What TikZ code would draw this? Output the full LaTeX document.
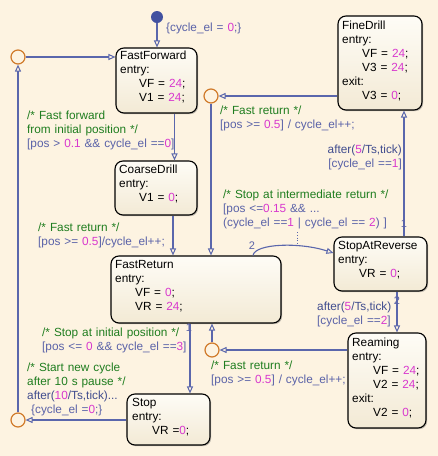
\documentclass[tikz,border=0pt]{standalone}
\usepackage{fontspec}
\setmainfont{Liberation Sans}
\usetikzlibrary{arrows.meta,shadows,calc}
\definecolor{bg}{HTML}{FDF3E1}
\definecolor{sttop}{HTML}{FEFCF6}
\definecolor{stbot}{HTML}{F3EAD5}
\definecolor{conn}{HTML}{5A66AC}
\definecolor{lblue}{HTML}{5A62A8}
\definecolor{dblue}{HTML}{404C8E}
\definecolor{cgreen}{HTML}{1F7D1F}
\definecolor{nmagc}{HTML}{D838CE}
\definecolor{jorange}{HTML}{D07A2A}
\definecolor{dotc}{HTML}{4251A0}
\newcommand\sffz{\fontsize{11.8pt}{14pt}\selectfont}
\newcommand\nmag[1]{\textcolor{nmagc}{#1}}
\newcommand\ngrn[1]{\textcolor{cgreen}{#1}}
\newcommand\nblu[1]{\textcolor{lblue}{#1}}
\newcommand\ndbl[1]{\textcolor{dblue}{#1}}
\begin{document}
\begin{tikzpicture}[x=1pt,y=-1pt,
  st/.style={draw=black, line width=1.1pt, rounded corners=8pt,
    top color=sttop, bottom color=stbot, inner sep=0pt,
    drop shadow={shadow xshift=1.2pt, shadow yshift=-1.2pt, opacity=0.35, fill=black!70}},
  stt/.style={inner sep=0pt, anchor=base west, align=left, text width=120pt, font=\sffz},
  lbl/.style={inner sep=0pt, anchor=base west, align=left, text width=220pt, font=\sffz},
  lblr/.style={inner sep=0pt, anchor=base east, align=right, text width=120pt, font=\sffz},
  num/.style={inner sep=0pt, font=\fontsize{11pt}{13pt}\selectfont, text=lblue},
  tr/.style={draw=conn, line width=1.1pt, -{Triangle[open,length=7pt,width=6pt,line width=1pt]}},
  junc/.style={circle, draw=jorange, line width=1.2pt, fill=bg, minimum size=14pt, inner sep=0pt},
  dflt/.style={circle, fill=dotc, minimum size=12pt, inner sep=0pt}]
\fill[bg] (0,0) rectangle (438,456);
\useasboundingbox (0,0) rectangle (438,456);

% states
\node[st, minimum width=81pt, minimum height=65pt] (ff) at (156.5,80.5) {};
\node[st, minimum width=84pt, minimum height=94pt] (fd) at (380,63) {};
\node[st, minimum width=82pt, minimum height=54pt] (cd) at (156,188) {};
\node[st, minimum width=170pt, minimum height=67pt] (fr) at (196,289.5) {};
\node[st, minimum width=93pt, minimum height=54pt] (sar) at (380.5,264) {};
\node[st, minimum width=83pt, minimum height=51pt] (stp) at (168.5,419.5) {};
\node[st, minimum width=78pt, minimum height=95pt] (rm) at (387,380.5) {};

% state texts
\node[stt] (ffT) at (120,59) {FastForward\\entry:\\\hspace*{19pt}VF = \nmag{24};\\\hspace*{19pt}V1 = \nmag{24};};
\node[stt] (fdT) at (342,29) {FineDrill\\entry:\\\hspace*{20pt}VF = \nmag{24};\\\hspace*{20pt}V3 = \nmag{24};\\exit:\\\hspace*{20pt}V3 = \nmag{0};};
\node[stt] (cdT) at (119,173) {CoarseDrill\\entry:\\\hspace*{20pt}V1 = \nmag{0};};
\node[stt] (frT) at (115,268) {FastReturn\\entry:\\\hspace*{20pt}VF = \nmag{0};\\\hspace*{20pt}VR = \nmag{24};};
\node[stt] (sarT) at (338,249) {StopAtReverse\\entry:\\\hspace*{21pt}VR = \nmag{0};};
\node[stt] (stpT) at (132,406) {Stop\\entry:\\\hspace*{20pt}VR =\nmag{0};};
\node[stt] (rmT) at (352,346) {Reaming\\entry:\\\hspace*{21pt}VF = \nmag{24};\\\hspace*{21pt}V2 = \nmag{24};\\exit:\\\hspace*{21pt}V2 = \nmag{0};};

% junctions and default transition
\node[junc] (j1) at (18,57) {};
\node[junc] (j2) at (211,96) {};
\node[junc] (j3) at (18,420) {};
\node[junc] (j4) at (212,350) {};
\node[dflt] (dot) at (157,17) {};

% transitions
\draw[tr] (dot.south) -- (dot.south |- ff.north);
\draw[tr] (j1.east) -- (j1.east -| ff.west);
\draw[tr] (j3.north) -- (j1.south);
\draw[tr] (stp.west |- j3.east) -- (j3.east);
\draw[tr] ([xshift=18pt]ff.south) coordinate (a4) -- (a4 |- cd.north);
\draw[tr] ([xshift=17pt]cd.south) coordinate (a5) -- (a5 |- fr.north);
\draw[tr] (j2.south) -- (j2.south |- fr.north);
\draw[tr] (j2.east -| fd.west) -- (j2.east);
\draw[tr] ([xshift=23.5pt]sar.north) coordinate (a8) -- (a8 |- fd.south);
\draw[tr] ([xshift=57pt]fr.north) .. controls +(2,-12) and +(-34,-11) .. ([yshift=11pt]sar.west);
\draw[tr] ([xshift=16.5pt]sar.south) coordinate (a10) -- (a10 |- rm.north);
\draw[tr] (j4.east -| rm.west) -- (j4.east);
\draw[tr] (j4.north) -- (j4.north |- fr.south);
\draw[tr] ([xshift=-6pt]fr.south) coordinate (a13) -- (a13 |- stp.north);

% labels
\node[lbl] (L0) at (166,31) {\nblu{\{cycle\_el = \nmag{0};\}}};
\node[lbl] (L4) at (27,119) {\ngrn{/* Fast forward}\\\ngrn{from initial position */}\\\nblu{[pos > \nmag{0.1} \&\& cycle\_el ==\nmag{0}]}};
\node[lbl] (L5) at (38,231) {\ngrn{/* Fast return */}\\\nblu{[pos >= \nmag{0.5}]/cycle\_el++;}};
\node[lbl] (L7) at (220,114) {\ngrn{/* Fast return */}\\\nblu{[pos >= \nmag{0.5}] / cycle\_el++;}};
\node[lblr] (L8) at (402,153) {\ndbl{after(\nmag{5}/Ts,tick)}\\\nblu{[cycle\_el ==\nmag{1}]}};
\node[lbl] (L9) at (223,198) {\ngrn{/* Stop at intermediate return */}\\\nblu{[pos <=\nmag{0.15} \&\& ...}\\\nblu{(cycle\_el ==\nmag{1} | cycle\_el == \nmag{2}) ]}};
\node[lbl] (L10) at (317,310) {\ndbl{after(\nmag{5}/Ts,tick)}\\\nblu{[cycle\_el ==\nmag{2}]}};
\node[lbl] (L11) at (211,369) {\ngrn{/* Fast return */}\\\nblu{[pos >= \nmag{0.5}] / cycle\_el++;}};
\node[lbl] (L13) at (42,336) {\ngrn{/* Stop at initial position */}\\\nblu{[pos <= \nmag{0} \&\& cycle\_el ==\nmag{3}]}};
\node[lbl] (L3) at (27,371) {\ngrn{/* Start new cycle}\\\ngrn{after 10 s pause */}\\\ndbl{after(\nmag{10}/Ts,tick)...}\\\hspace*{4pt}\nblu{\{cycle\_el =\nmag{0};\}}};

% execution order numbers
\node[num] (n9) at (252,246) {2};
\node[num] (n8) at (404,224) {1};
\node[num] (n10) at (397,301) {2};
\node[num] (n13) at (189,328) {1};
\draw[conn, dotted, line width=0.8pt] (297,232) coordinate (d1) -- (297,245) coordinate (d2);
\end{tikzpicture}
\end{document}
